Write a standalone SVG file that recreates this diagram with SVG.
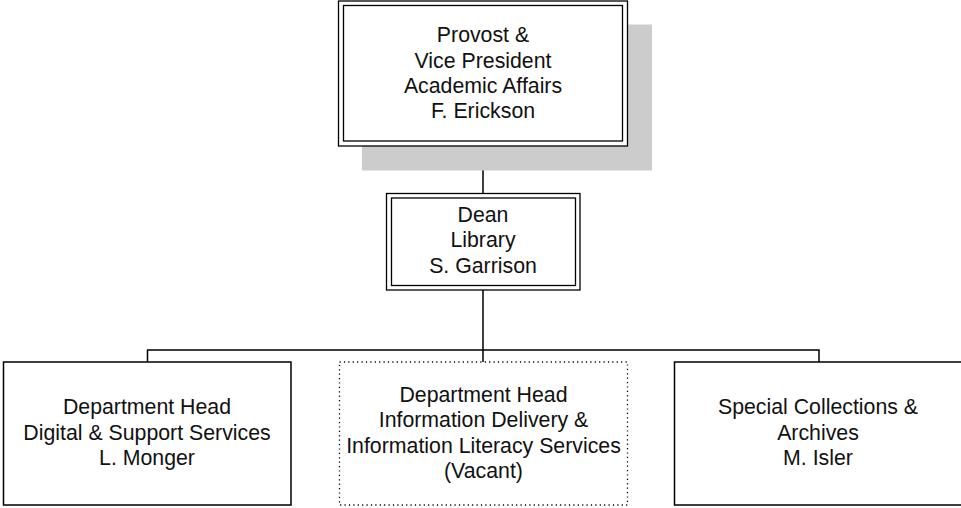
<svg xmlns="http://www.w3.org/2000/svg" width="961" height="508" viewBox="0 0 961 508">
<style>
text{font-family:"Liberation Sans",Arial,sans-serif;font-size:21.3px;fill:#111;text-anchor:middle}
.box{fill:#fff;stroke:#000;stroke-width:1.5}
.dbl{fill:none;stroke:#000;stroke-width:1.3}
.dot{fill:#fff;stroke:#000;stroke-width:1.3;stroke-dasharray:1.2 3.2}
.conn{fill:none;stroke:#000;stroke-width:1.5}
</style>
<rect x="0" y="0" width="961" height="508" fill="#fff"/>
<g id="connectors">
<path class="conn" d="M483 146V193.5M483 290V350M147.5 362V350H819V362M483 350V362"/>
</g>
<g id="provost">
<rect x="362" y="24.5" width="290" height="146" fill="#cccccc"/>
<rect x="338.5" y="1" width="289" height="145" fill="#fff" stroke="#000" stroke-width="1.3"/>
<rect class="dbl" x="343.5" y="5.5" width="279" height="135.5"/>
<text x="483" y="42">Provost &amp;</text>
<text x="483" y="67.5">Vice President</text>
<text x="483" y="93">Academic Affairs</text>
<text x="483" y="118">F. Erickson</text>
</g>
<g id="dean">
<rect x="386.5" y="193.5" width="193.5" height="96.5" fill="#fff" stroke="#000" stroke-width="1.3"/>
<rect class="dbl" x="391.5" y="198" width="184" height="87.5"/>
<text x="483" y="221.5">Dean</text>
<text x="483" y="246.5">Library</text>
<text x="483" y="273">S. Garrison</text>
</g>
<g id="digital">
<rect class="box" x="3.5" y="362" width="287.5" height="143"/>
<text x="147" y="414">Department Head</text>
<text x="147" y="439.5">Digital &amp; Support Services</text>
<text x="147" y="465">L. Monger</text>
</g>
<g id="infodelivery">
<rect class="dot" x="339.5" y="362" width="288" height="143"/>
<text x="483.5" y="401.5">Department Head</text>
<text x="483.5" y="427">Information Delivery &amp;</text>
<text x="483.5" y="452.5">Information Literacy Services</text>
<text x="483.5" y="478">(Vacant)</text>
</g>
<g id="special">
<rect class="box" x="674.5" y="362" width="288" height="143"/>
<text x="818" y="414">Special Collections &amp;</text>
<text x="818" y="439.5">Archives</text>
<text x="818" y="465">M. Isler</text>
</g>
</svg>
